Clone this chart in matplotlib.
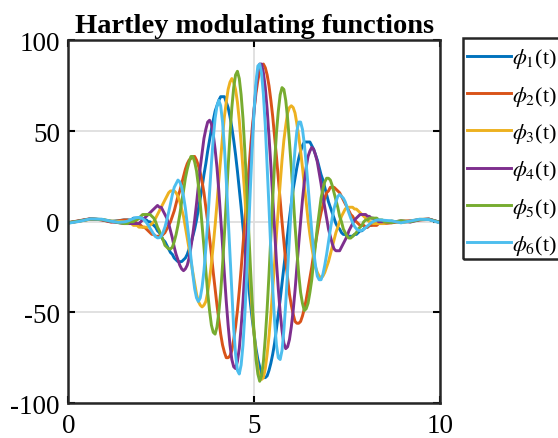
import numpy as np
import matplotlib
matplotlib.use('Agg')
import matplotlib.pyplot as plt
from matplotlib.patches import Rectangle

plt.rcParams['font.family'] = ['Liberation Serif', 'DejaVu Serif']
plt.rcParams['mathtext.fontset'] = 'stix'
plt.rcParams['axes.unicode_minus'] = False

# ---- data ----
t_left = [0, 0.3, 0.6, 0.9, 1.15, 1.35]
t_mid = np.linspace(1.5, 8.5, 141)          # reading grid, step 0.05
t_right = [8.7, 8.95, 9.2, 9.45, 9.7, 10.0]
t = np.concatenate([t_left, t_mid, t_right])

phi1 = [-0.6, 0.4, 1.5, 1.2, 0.2, 0.6,
        1, 1, 1, 1, 1, 2, 2, 2, 2, 2, 2, 1, 1, 0, 0, -1, -2, -3, -5, -6,
        -8, -10, -11, -13, -15, -17, -18, -20, -21, -22, -22, -22, -21, -20, -18, -15, -12, -8, -4, 1,
        7, 13, 19, 26, 32, 39, 45, 51, 56, 61, 64, 67, 69, 69, 69, 66, 63, 58, 52, 45,
        37, 28, 18, 8, -3, -14, -24, -35, -45, -54, -62, -70, -76, -80, -84, -86, -86, -85, -82, -78,
        -73, -67, -59, -51, -43, -34, -25, -16, -7, 2, 10, 18, 24, 30, 35, 39, 42, 44, 44, 44,
        44, 42, 40, 37, 34, 30, 26, 23, 19, 15, 11, 8, 5, 2, -1, -3, -4, -6, -7, -7,
        -8, -8, -8, -8, -7, -7, -6, -5, -5, -4, -3, -3, -2, -2, -1, -1, -1, 0, 0, 0, 0,
        0.3, -0.4, 0.3, 1.2, 1.4, -0.3]
phi2 = [-0.5, 0.6, 1.7, 1.0, -0.2, 0.5,
        1, 1, 1, 0, 0, 0, 0, -1, -1, -2, -3, -3, -4, -5, -6, -7, -7, -8, -8, -8,
        -8, -7, -6, -4, -2, 0, 3, 6, 10, 14, 17, 21, 25, 29, 32, 34, 35, 36, 36, 34,
        31, 27, 22, 16, 8, 0, -9, -18, -28, -37, -46, -54, -62, -68, -72, -75, -75, -74, -71, -65,
        -58, -49, -38, -26, -13, 0, 14, 27, 40, 52, 62, 71, 78, 83, 86, 87, 85, 81, 75, 67,
        58, 47, 36, 24, 12, 0, -11, -22, -31, -40, -46, -51, -55, -56, -56, -55, -52, -48, -43, -37,
        -31, -25, -18, -12, -6, 0, 5, 9, 13, 16, 17, 19, 19, 19, 18, 17, 16, 14, 12, 10,
        8, 6, 4, 3, 1, 0, -1, -2, -2, -2, -3, -3, -2, -2, -2, -2, -2, -1, -1, -1, -1,
        -0.6, 0.2, 0.6, 1.0, 1.3, -0.4]
phi3 = [-0.7, 0.3, 1.4, 1.3, 0.4, 0.2,
        0, 0, -1, -1, -1, -2, -2, -2, -3, -3, -3, -3, -3, -3, -2, -1, 0, 2, 4, 6,
        8, 10, 12, 14, 16, 17, 17, 17, 16, 14, 11, 7, 3, -3, -9, -15, -22, -28, -34, -40,
        -44, -46, -47, -46, -44, -39, -32, -23, -13, -2, 10, 23, 35, 47, 58, 66, 73, 77, 79, 77,
        73, 66, 56, 43, 29, 14, -3, -19, -35, -50, -62, -73, -81, -86, -87, -86, -81, -73, -63, -51,
        -37, -23, -7, 7, 21, 34, 45, 53, 60, 63, 64, 63, 60, 54, 47, 39, 30, 20, 11, 1,
        -7, -14, -20, -25, -28, -30, -31, -30, -28, -25, -22, -18, -14, -10, -6, -3, 0, 3, 5, 7,
        8, 8, 8, 8, 7, 7, 6, 5, 4, 3, 2, 1, 0, 0, -1, -1, -1, -1, -1, -1, -1,
        0.4, -0.5, 0.2, 1.3, 1.5, -0.5]
phi4 = [-0.6, 0.5, 1.6, 1.1, 0.0, -0.5,
        -1, -1, -1, -1, -1, -1, -1, -1, -1, 0, 1, 2, 3, 4, 5, 6, 7, 8, 9, 8,
        8, 6, 4, 2, -1, -5, -9, -14, -18, -21, -24, -26, -27, -26, -24, -20, -14, -7, 1, 10,
        20, 30, 38, 46, 51, 55, 56, 54, 48, 40, 30, 17, 2, -13, -29, -44, -57, -68, -76, -80,
        -81, -77, -70, -58, -44, -27, -8, 11, 30, 47, 62, 74, 83, 87, 87, 82, 74, 62, 47, 31,
        13, -5, -22, -37, -50, -60, -67, -70, -69, -65, -58, -49, -38, -25, -12, 0, 12, 22, 30, 36,
        39, 41, 40, 37, 33, 27, 21, 14, 8, 2, -4, -8, -12, -15, -16, -16, -16, -14, -12, -10,
        -8, -5, -3, -1, 1, 2, 3, 4, 4, 4, 4, 3, 3, 2, 2, 1, 1, 0, 0, 0, 0,
        -0.3, 0.5, -0.2, 1.1, 1.5, -0.4]
phi5 = [-0.5, 0.4, 1.5, 1.2, 0.3, -0.4,
        -1, -1, -1, 0, 0, 0, 1, 1, 2, 3, 4, 4, 4, 4, 4, 3, 2, 0, -3, -5,
        -8, -10, -13, -14, -15, -15, -14, -11, -7, -2, 4, 11, 17, 24, 29, 33, 36, 36, 33, 28,
        20, 10, -2, -14, -27, -39, -49, -57, -61, -62, -58, -50, -39, -24, -7, 12, 30, 48, 63, 74,
        81, 83, 79, 70, 57, 39, 19, -3, -25, -45, -62, -76, -84, -88, -85, -77, -64, -48, -29, -8,
        13, 32, 49, 61, 70, 74, 73, 67, 57, 44, 30, 14, -2, -16, -29, -39, -45, -49, -48, -45,
        -39, -32, -22, -13, -3, 5, 13, 18, 22, 24, 24, 23, 20, 16, 12, 8, 3, 0, -4, -6,
        -8, -9, -9, -8, -7, -6, -4, -3, -2, 0, 1, 1, 2, 2, 2, 2, 2, 1, 1, 1, 0,
        -0.5, 0.6, 0.0, 1.2, 1.3, -0.3]
phi6 = [-0.8, 0.2, 1.6, 1.4, 0.3, -0.3,
        -0.1, 0.1, 0.4, 0.8, 1.3, 1.7, 2.1, 2.3,
        2.4, 2.2, 1.7, 0.8, -0.4, -1.9, -3.6, -5.4, -6.9, -8.2,
        -8.9, -8.8, -7.8, -5.8, -2.9, 0.9, 5.3, 10, 15, 19,
        21, 23, 22, 19, 14, 7.5, -1.0, -10, -20, -29,
        -37, -42, -44, -42, -36, -27, -15, 0, 16, 32,
        46, 57, 64, 67, 64, 55, 41, 23, 2.4, -19,
        -40, -59, -73, -82, -84, -79, -68, -51, -30, -5.5,
        19, 42, 62, 77, 86, 87, 82, 70, 53, 31,
        7.9, -16, -37, -55, -68, -75, -76, -71, -60, -45,
        -27, -8.4, 10, 27, 40, 50, 55, 55, 51, 43,
        32, 20, 6.9, -5.3, -16, -24, -30, -32, -32, -29,
        -24, -18, -11, -4.3, 2.0, 7.3, 11, 14, 15, 14,
        13, 11, 7.8, 4.8, 2.0, -0.5, -2.5, -3.9, -4.7, -4.9,
        -4.7, -4.1, -3.2, -2.3, -1.4, -0.6, 0.1, 0.6, 0.9, 1.0,
        1.0, 0.9, 0.8,
        0.5, -0.6, 0.4, 1.4, 1.2, -0.6]

series = [phi1, phi2, phi3, phi4, phi5, phi6]
labels = [r'$\phi_{1}$(t)', r'$\phi_{2}$(t)', r'$\phi_{3}$(t)',
          r'$\phi_{4}$(t)', r'$\phi_{5}$(t)', r'$\phi_{6}$(t)']
x_ticks = [0, 5, 10]
y_ticks = [-100, -50, 0, 50, 100]
title = 'Hartley modulating functions'

# ---- drawing ----
colors = ['#0072BD', '#D95319', '#EDB120', '#7E2F8E', '#77AC30', '#4DBEEE']
W, H = 558, 439
fig = plt.figure(figsize=(W/100, H/100), dpi=100)
ax = fig.add_axes([0.1224, 0.0797, 0.6661, 0.8258])
for y, c, lab in zip(series, colors, labels):
    ax.plot(t, y, color=c, lw=2.1, label=lab)
ax.set_xlim(0, 10)
ax.set_ylim(-100, 100)
ax.set_xticks(x_ticks)
ax.set_yticks(y_ticks)
ax.grid(True, color='#dedede', lw=1.3)
ax.tick_params(direction='in', top=True, right=True, labelsize=19.5, length=5, width=1.5)
ax.tick_params(axis='x', pad=7)
ax.tick_params(axis='y', pad=6)
for s in ax.spines.values():
    s.set_linewidth(1.8)
    s.set_color('#262626')
ax.set_title(title, fontsize=20.5, fontweight='bold', pad=6)
ax.legend(loc='upper left', bbox_to_anchor=(463.3/W, 1-44/H), bbox_transform=fig.transFigure,
          borderaxespad=0, fontsize=16, frameon=False,
          handlelength=2.0, handletextpad=0.05, labelspacing=0.6, borderpad=0.15)
fig.patches.append(Rectangle((463.3/W, 1-260/H), 120/W, (260-39.3)/H, transform=fig.transFigure,
                             fill=False, edgecolor='#262626', lw=1.8))
fig.savefig('out.png', dpi=100)
